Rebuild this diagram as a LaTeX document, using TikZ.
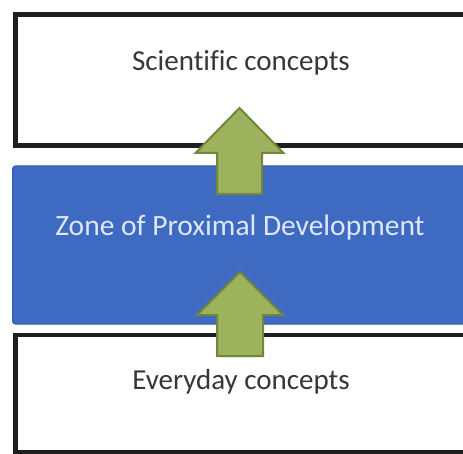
\documentclass[tikz,border=0pt]{standalone}
\usepackage{fontspec}
\setmainfont{Carlito}[Ligatures=NoCommon]
\definecolor{zpdblue}{RGB}{62,106,193}
\definecolor{zpdedge}{RGB}{52,92,172}
\definecolor{zpdtext}{RGB}{222,231,246}
\definecolor{arrowfill}{RGB}{156,178,92}
\definecolor{arrowedge}{RGB}{112,134,58}
\definecolor{labelgrey}{RGB}{55,55,55}
\definecolor{frameblack}{RGB}{30,30,30}
\tikzset{
  conceptframe/.style={draw=frameblack, line width=4.5pt, fill=white},
  zoneband/.style={draw=zpdedge, line width=1pt, fill=zpdblue, rounded corners=3pt},
  conceptlabel/.style={text=labelgrey, font=\fontsize{29}{33}\selectfont, inner sep=0pt},
  zonelabel/.style={text=zpdtext, font=\fontsize{29.5}{33}\selectfont, inner sep=0pt},
  uparrow/.style={fill=arrowfill, draw=arrowedge, line width=2pt, line join=miter}
}
\begin{document}
\begin{tikzpicture}[x=1pt, y=-1pt]
  \path[use as bounding box, fill=white] (0,0) rectangle (463,454);
  \begin{scope}
  \clip (0,0) rectangle (463,454);

  % upper frame: scientific concepts (open on the right)
  \draw[conceptframe] (500,14.5) -- (15.5,14.5) -- (15.5,145.5) -- (500,145.5);
  \node[conceptlabel] (scilabel) at (241,63) {Scientific concepts};

  % middle band: the zone of proximal development
  \draw[zoneband] (12.5,166) rectangle (500,324);
  \node[zonelabel] (zpdlabel) at (240,228) {Zone of Proximal Development};

  % lower frame: everyday concepts (open on the right)
  \draw[conceptframe] (500,335) -- (15.5,335) -- (15.5,452.5) -- (500,452.5);
  \node[conceptlabel] (everylabel) at (241,382) {Everyday concepts};

  % block arrows pointing upward
  \draw[uparrow] (239.5,108) -- (283.5,153) -- (262,153) -- (262,194)
                 -- (217,194) -- (217,153) -- (195.5,153) -- cycle;
  \draw[uparrow] (240,272) -- (283,315) -- (263,315) -- (263,356)
                 -- (217,356) -- (217,315) -- (197,315) -- cycle;
  \end{scope}
\end{tikzpicture}
\end{document}
